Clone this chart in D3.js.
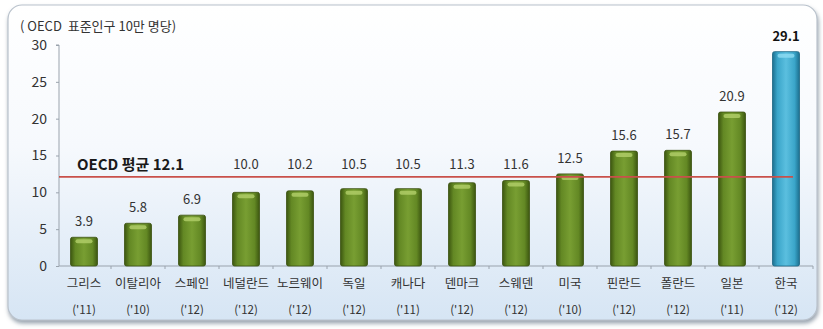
<!DOCTYPE html>
<html>
<head>
<meta charset="utf-8">
<script src="https://cdn.jsdelivr.net/npm/d3@7"></script>
<style>
  body { margin: 0; background: #fff; }
  svg text { font-family: "Noto Sans CJK KR", "Noto Sans", sans-serif; }
</style>
</head>
<body>
<svg id="chart" width="823" height="329"></svg>
<script>
"use strict";

// data
let countries = ["그리스", "이탈리아", "스페인", "네덜란드", "노르웨이", "독일", "캐나다", "덴마크", "스웨덴", "미국", "핀란드", "폴란드", "일본", "한국"]
let years = ["('11)", "('10)", "('12)", "('12)", "('12)", "('12)", "('11)", "('12)", "('12)", "('10)", "('12)", "('12)", "('11)", "('12)"]
let rates = [3.9, 5.8, 6.9, 10.0, 10.2, 10.5, 10.5, 11.3, 11.6, 12.5, 15.6, 15.7, 20.9, 29.1]
let yTicks = [0, 5, 10, 15, 20, 25, 30]
let oecdAvg = 12.1

let svg = d3.select("#chart")
let defs = svg.append("defs")

// panel background
let bg = defs.append("linearGradient").attr("id", "panel-bg")
    .attr("x1", 0).attr("y1", 0).attr("x2", 0).attr("y2", 1)
bg.append("stop").attr("offset", "0%").attr("stop-color", "#ffffff")
bg.append("stop").attr("offset", "45%").attr("stop-color", "#f6f9fd")
bg.append("stop").attr("offset", "100%").attr("stop-color", "#d6e5f4")

let shadow = defs.append("filter").attr("id", "panel-shadow")
    .attr("x", "-5%").attr("y", "-5%").attr("width", "110%").attr("height", "115%")
shadow.append("feDropShadow").attr("dx", 1).attr("dy", 3).attr("stdDeviation", 2)
    .attr("flood-color", "#6d7c8c").attr("flood-opacity", 0.7)

// bar gradients (side to side, darker edges)
function barGradient(id, edge, mid, light){
  let g = defs.append("linearGradient").attr("id", id)
      .attr("x1", 0).attr("y1", 0).attr("x2", 1).attr("y2", 0)
  g.append("stop").attr("offset", "0%").attr("stop-color", edge)
  g.append("stop").attr("offset", "18%").attr("stop-color", mid)
  g.append("stop").attr("offset", "50%").attr("stop-color", light)
  g.append("stop").attr("offset", "82%").attr("stop-color", mid)
  g.append("stop").attr("offset", "100%").attr("stop-color", edge)
}
barGradient("bar-green", "#3c5610", "#638824", "#789e32")
barGradient("bar-blue", "#1c6f8f", "#3aa5c9", "#5bbfdf")

svg.append("rect")
    .attr("x", 8).attr("y", 5).attr("width", 809).attr("height", 315)
    .attr("rx", 14)
    .attr("fill", "url(#panel-bg)")
    .attr("stroke", "#b9c2cc").attr("stroke-width", 1.2)
    .attr("filter", "url(#panel-shadow)")

let x = d3.scaleBand().domain(countries).range([57, 813]).paddingInner(0.5).paddingOuter(0.25)
let y = d3.scaleLinear().domain([0, 30]).range([266, 45])
let last = countries.length - 1

// y axis
let yAxis = svg.append("g").attr("transform", "translate(59,0)")
    .call(d3.axisLeft(y).tickValues(yTicks).tickSize(3).tickPadding(9))
yAxis.select(".domain").attr("stroke", "#9aa3ad").attr("d", "M-3," + y(30) + "H0V" + y(0))
yAxis.selectAll(".tick line").attr("stroke", "#9aa3ad")
yAxis.selectAll("text").attr("font-size", 14).attr("fill", "#333")
    .attr("font-family", "'Liberation Sans Narrow', 'Liberation Sans', sans-serif")

// x axis baseline and boundary ticks
svg.append("line")
    .attr("x1", 59).attr("x2", 813).attr("y1", y(0)).attr("y2", y(0))
    .attr("stroke", "#9aa3ad")
svg.selectAll(".xtick").data(countries)
  .join("line").attr("class", "xtick")
    .attr("x1", d => x(d) + x.bandwidth() + x.step() * x.paddingInner() / 2)
    .attr("x2", d => x(d) + x.bandwidth() + x.step() * x.paddingInner() / 2)
    .attr("y1", y(0)).attr("y2", y(0) + 3)
    .attr("stroke", "#9aa3ad")

// bars
let bars = svg.selectAll(".bar").data(rates).join("g").attr("class", "bar")
bars.append("rect")
    .attr("x", (d, i) => x(countries[i]))
    .attr("y", d => y(d))
    .attr("width", x.bandwidth())
    .attr("height", d => y(0) - y(d))
    .attr("rx", 2)
    .attr("fill", (d, i) => i === last ? "url(#bar-blue)" : "url(#bar-green)")
    .attr("stroke", (d, i) => i === last ? "#1a6683" : "#3b5210")
    .attr("stroke-width", 0.8)
// bevel highlight at the top of each bar
bars.append("rect")
    .attr("x", (d, i) => x(countries[i]) + 5)
    .attr("y", d => y(d) + 2)
    .attr("width", x.bandwidth() - 10)
    .attr("height", 4)
    .attr("rx", 2)
    .attr("fill", (d, i) => i === last ? "#8fdcf2" : "#b3d06a")
    .attr("opacity", 0.8)

// value labels (lifted above the average line when they would cross it)
function labelY(d){
  let base = y(d) - 11
  let crosses = d < oecdAvg && base - 10 < y(oecdAvg) + 2
  return crosses ? Math.min(base, y(oecdAvg) - 8) : base
}
svg.selectAll(".val").data(rates).join("text").attr("class", "val")
    .attr("x", (d, i) => x(countries[i]) + x.bandwidth() / 2)
    .attr("y", labelY)
    .attr("text-anchor", "middle")
    .attr("font-size", 13)
    .attr("font-family", "'Liberation Sans Narrow', 'Liberation Sans', sans-serif")
    .attr("font-weight", (d, i) => i === last ? "bold" : "normal")
    .attr("fill", (d, i) => i === last ? "#111" : "#333")
    .text(d => d.toFixed(1))

// OECD average line
svg.append("line")
    .attr("x1", 59).attr("x2", 793)
    .attr("y1", y(oecdAvg)).attr("y2", y(oecdAvg))
    .attr("stroke", "#c9504a").attr("stroke-width", 1.8)
svg.append("text")
    .attr("x", 77).attr("y", y(oecdAvg) - 7)
    .attr("font-size", 15).attr("font-weight", "bold").attr("fill", "#1a1a1a")
    .text("OECD 평균 " + oecdAvg.toFixed(1))

// category labels
svg.selectAll(".cat").data(countries).join("text").attr("class", "cat")
    .attr("x", d => x(d) + x.bandwidth() / 2)
    .attr("y", 288)
    .attr("text-anchor", "middle")
    .attr("font-size", 12.5).attr("fill", "#333")
    .text(d => d)
svg.selectAll(".yr").data(years).join("text").attr("class", "yr")
    .attr("x", (d, i) => x(countries[i]) + x.bandwidth() / 2)
    .attr("y", 314)
    .attr("text-anchor", "middle")
    .attr("font-size", 11.5).attr("fill", "#333")
    .attr("font-family", "'Liberation Sans Narrow', 'Liberation Sans', sans-serif")
    .text(d => d)

// unit title
svg.append("text")
    .attr("x", 20).attr("y", 31)
    .attr("font-size", 13).attr("fill", "#333")
    .attr("xml:space", "preserve")
    .text("( OECD  표준인구 10만 명당)")
</script>
</body>
</html>
